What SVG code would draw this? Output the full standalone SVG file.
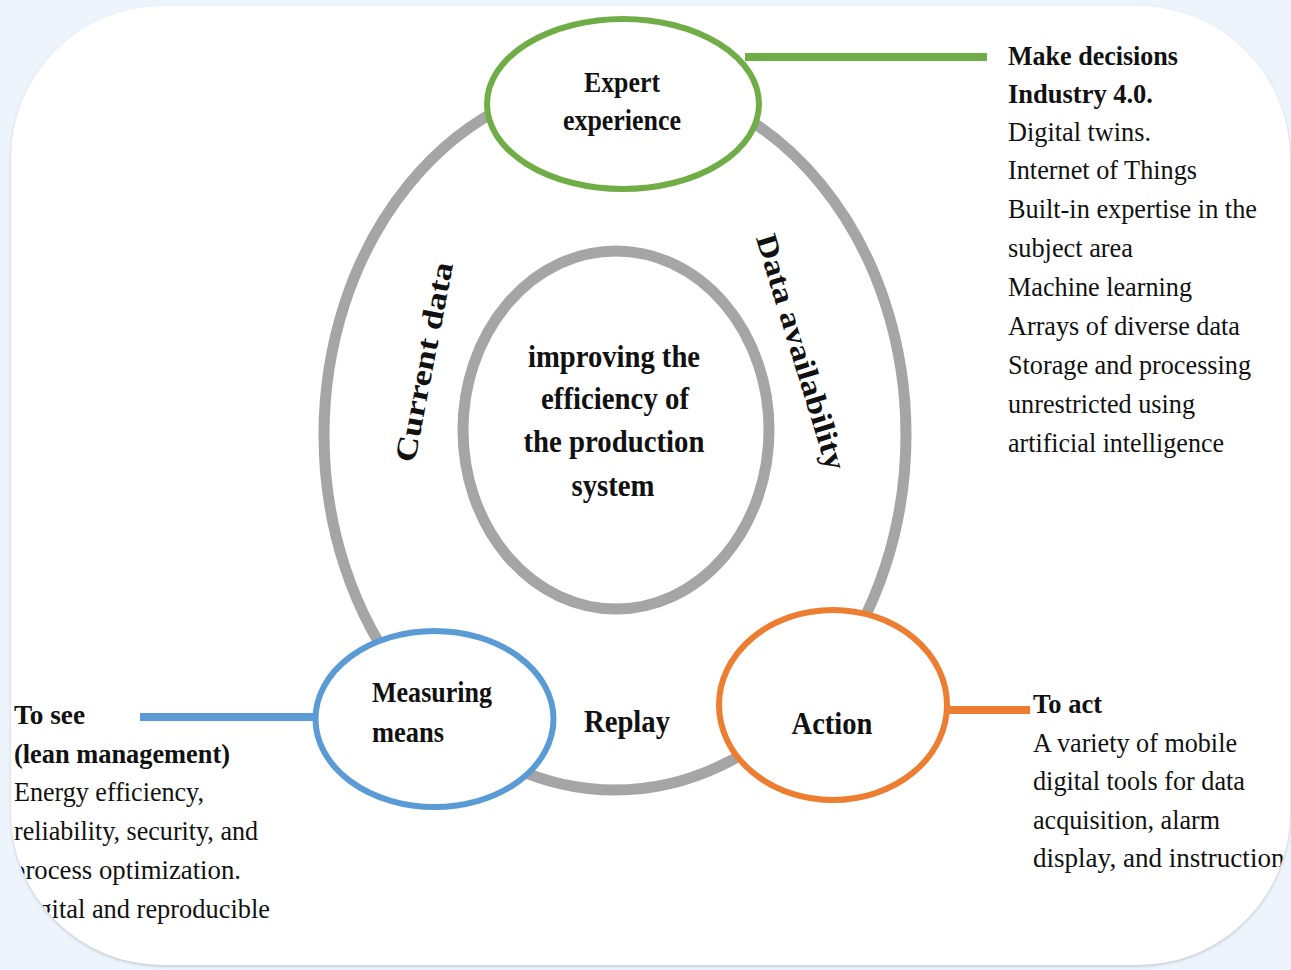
<svg xmlns="http://www.w3.org/2000/svg" width="1291" height="970" viewBox="0 0 1291 970">
<style>
.t{font-family:"Liberation Serif","Times New Roman",serif;fill:#111;}
.b{font-weight:bold;}
.lst{font-size:27px;}
.ring{fill:none;stroke:#a5a5a5;stroke-width:11;}
.node{fill:#fff;stroke-width:6;}
.link{stroke-width:8;fill:none;}
</style>
<defs>
<clipPath id="cardClip"><rect x="11" y="6" width="1279" height="959" rx="152" ry="152"/></clipPath>
<filter id="sh" x="-5%" y="-5%" width="110%" height="110%"><feDropShadow dx="0" dy="1.5" stdDeviation="1.5" flood-color="#8a93a3" flood-opacity="0.45"/></filter>
</defs>
<rect x="0" y="0" width="1291" height="970" fill="#eef4fc"/>
<rect id="card" x="11" y="6" width="1279" height="959" rx="152" ry="152" fill="#fff" filter="url(#sh)"/>

<g id="connectors">
<ellipse id="cycle" class="ring" cx="615" cy="435" rx="291" ry="355"/>
<line class="link" x1="745" y1="57" x2="987" y2="57" stroke="#70ad47"/>
<line class="link" x1="140" y1="717" x2="314" y2="717" stroke="#5b9bd5"/>
<line class="link" x1="946" y1="710" x2="1030" y2="710" stroke="#ed7d31"/>
</g>

<g id="center">
<ellipse class="ring" cx="616" cy="430" rx="153" ry="179"/>
<g class="t b" font-size="32" text-anchor="middle">
<text x="614" y="367" textLength="172" lengthAdjust="spacingAndGlyphs">improving the</text>
<text x="615" y="409" textLength="148" lengthAdjust="spacingAndGlyphs">efficiency of</text>
<text x="614" y="452" textLength="181" lengthAdjust="spacingAndGlyphs">the production</text>
<text x="613" y="496" textLength="83" lengthAdjust="spacingAndGlyphs">system</text>
</g>
</g>

<g id="label-current-data" class="t b" font-size="30">
<text transform="translate(424,362) rotate(-79)" x="0" y="10" text-anchor="middle" textLength="203" lengthAdjust="spacingAndGlyphs">Current data</text>
</g>
<g id="label-data-availability" class="t b" font-size="30">
<text transform="translate(801,352) rotate(73)" x="0" y="10" text-anchor="middle" textLength="245" lengthAdjust="spacingAndGlyphs">Data availability</text>
</g>
<g id="label-replay" class="t b" font-size="32">
<text x="627" y="732" text-anchor="middle" textLength="86" lengthAdjust="spacingAndGlyphs">Replay</text>
</g>

<g id="node-expert">
<ellipse class="node" cx="623" cy="104" rx="136" ry="85" stroke="#70ad47"/>
<g class="t b" font-size="30" text-anchor="middle">
<text x="622" y="92" textLength="76" lengthAdjust="spacingAndGlyphs">Expert</text>
<text x="622" y="130" textLength="118" lengthAdjust="spacingAndGlyphs">experience</text>
</g>
</g>

<g id="node-measuring">
<ellipse class="node" cx="434.5" cy="719" rx="119" ry="88" stroke="#5b9bd5"/>
<g class="t b" font-size="30">
<text x="372" y="702" textLength="120" lengthAdjust="spacingAndGlyphs">Measuring</text>
<text x="372" y="742" textLength="72" lengthAdjust="spacingAndGlyphs">means</text>
</g>
</g>

<g id="node-action">
<ellipse class="node" cx="833" cy="705" rx="114" ry="95" stroke="#ed7d31"/>
<text class="t b" x="832" y="734" font-size="32" text-anchor="middle" textLength="81" lengthAdjust="spacingAndGlyphs">Action</text>
</g>

<g id="text-decisions" class="t lst" clip-path="url(#cardClip)">
<text class="b" x="1008" y="65" textLength="170" lengthAdjust="spacingAndGlyphs">Make decisions</text>
<text class="b" x="1008" y="103" textLength="145" lengthAdjust="spacingAndGlyphs">Industry 4.0.</text>
<text x="1008" y="141" textLength="143" lengthAdjust="spacingAndGlyphs">Digital twins.</text>
<text x="1008" y="179" textLength="189" lengthAdjust="spacingAndGlyphs">Internet of Things</text>
<text x="1008" y="218" textLength="249" lengthAdjust="spacingAndGlyphs">Built-in expertise in the</text>
<text x="1008" y="257" textLength="125" lengthAdjust="spacingAndGlyphs">subject area</text>
<text x="1008" y="296" textLength="184" lengthAdjust="spacingAndGlyphs">Machine learning</text>
<text x="1008" y="335" textLength="232" lengthAdjust="spacingAndGlyphs">Arrays of diverse data</text>
<text x="1008" y="374" textLength="243" lengthAdjust="spacingAndGlyphs">Storage and processing</text>
<text x="1008" y="413" textLength="187" lengthAdjust="spacingAndGlyphs">unrestricted using</text>
<text x="1008" y="452" textLength="216" lengthAdjust="spacingAndGlyphs">artificial intelligence</text>
</g>

<g id="text-see" class="t lst" clip-path="url(#cardClip)">
<text class="b" x="14" y="724" textLength="71" lengthAdjust="spacingAndGlyphs">To see</text>
<text class="b" x="14" y="763" textLength="216" lengthAdjust="spacingAndGlyphs">(lean management)</text>
<text x="14" y="801" textLength="190" lengthAdjust="spacingAndGlyphs">Energy efficiency,</text>
<text x="14" y="840" textLength="244" lengthAdjust="spacingAndGlyphs">reliability, security, and</text>
<text x="12" y="879" textLength="229" lengthAdjust="spacingAndGlyphs">process optimization.</text>
<text x="12" y="918" textLength="258" lengthAdjust="spacingAndGlyphs">Digital and reproducible</text>
</g>

<g id="text-act" class="t lst" clip-path="url(#cardClip)">
<text class="b" x="1033" y="713" textLength="69" lengthAdjust="spacingAndGlyphs">To act</text>
<text x="1033" y="752" textLength="204" lengthAdjust="spacingAndGlyphs">A variety of mobile</text>
<text x="1033" y="790" textLength="212" lengthAdjust="spacingAndGlyphs">digital tools for data</text>
<text x="1033" y="829" textLength="187" lengthAdjust="spacingAndGlyphs">acquisition, alarm</text>
<text x="1033" y="867" textLength="262" lengthAdjust="spacingAndGlyphs">display, and instructions</text>
</g>
</svg>
